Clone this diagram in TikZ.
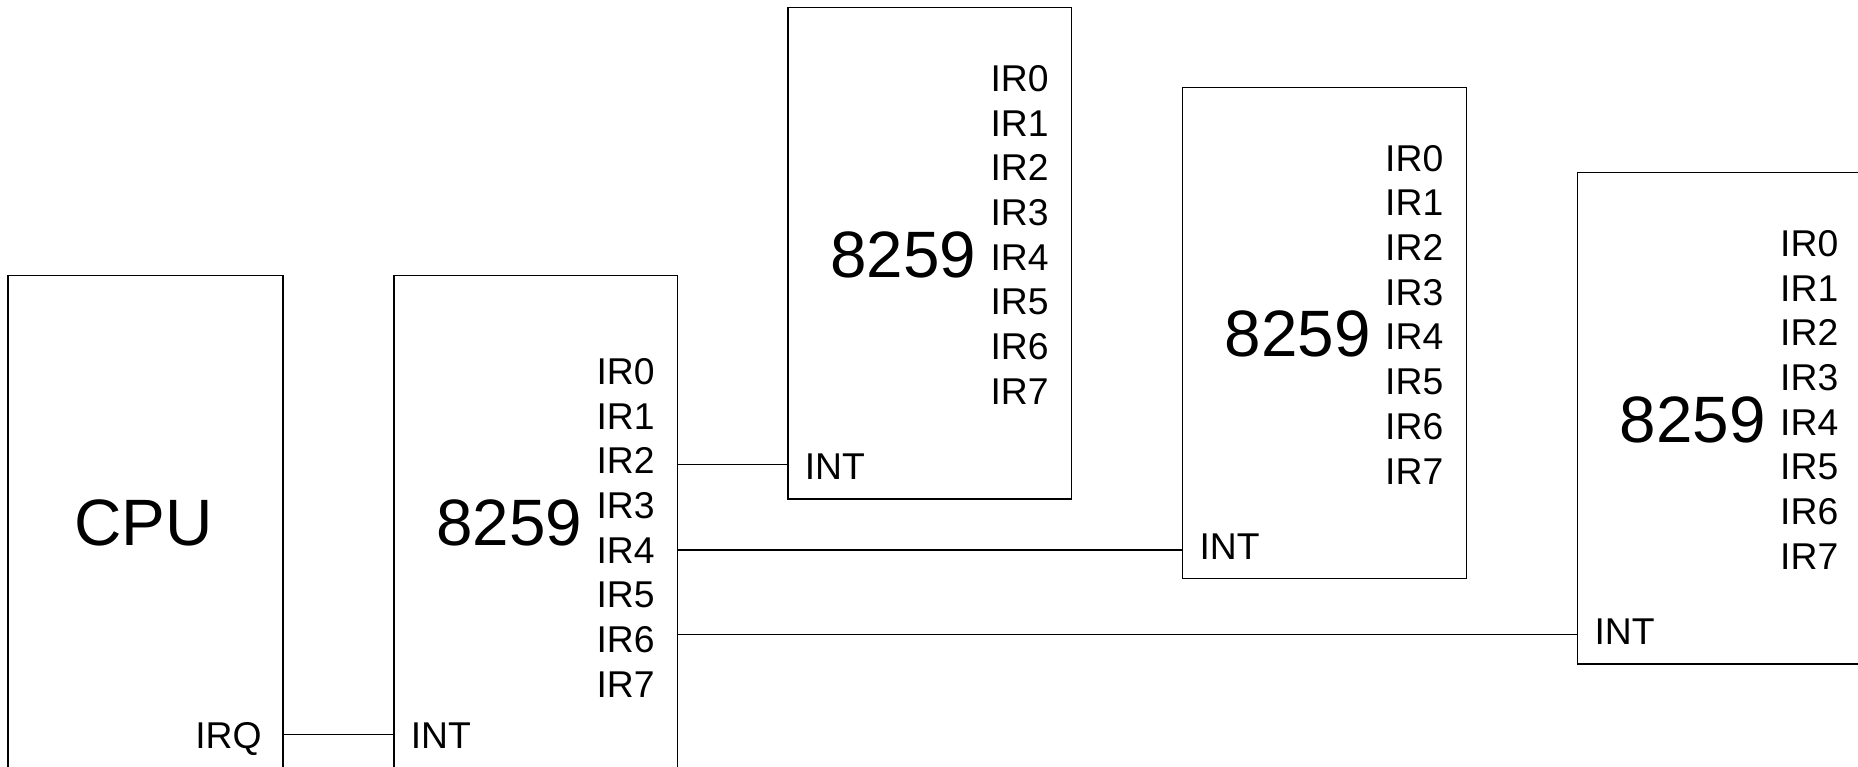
\documentclass[tikz,border=0pt]{standalone}
\usepackage{fontspec}
\setmainfont{Liberation Sans}
\begin{document}
\begin{tikzpicture}[x=1pt,y=-1pt,
  chip/.style={draw=black, line width=1.3pt, inner sep=0pt, minimum width=283.7pt, minimum height=491.6pt},
  cpubox/.style={draw=black, line width=1.3pt, inner sep=0pt, minimum width=275pt, minimum height=491.6pt},
  big/.style={inner sep=0pt, font=\fontsize{65.6}{78}\selectfont},
  pin/.style={inner sep=0pt, font=\fontsize{37.3}{44.7}\selectfont},
  wire/.style={draw=black, line width=1.3pt}]
\fill[white] (0,0) rectangle (1858,766);
\useasboundingbox (0,0) rectangle (1858,766);
\clip (0,0) rectangle (1858,766);
\newcommand\drawchip[4]{%
  \node[chip, anchor=north west] (#1) at (#2,#3) {};
  \node[big, anchor=base east] (#1-lbl) at ([shift={(189,270.3)}]#1.north west) {8259};
  \foreach \i in {0,...,7}
    \node[pin, anchor=base west] (#1-ir\i) at ([shift={(203,{#4+44.7*\i})}]#1.north west) {IR\i};
  \node[pin, anchor=base west] (#1-int) at ([shift={(17.3,473.2)}]#1.north west) {INT};
}
% CPU
\node[cpubox, anchor=north west] (CPU) at (7.3,275) {};
\node[big, anchor=base] (CPU-lbl) at ([shift={(136.5,270)}]CPU.north west) {CPU};
\node[pin, anchor=base east] (CPU-irq) at ([shift={(254.5,473.2)}]CPU.north west) {IRQ};
% 8259 chips
\drawchip{A}{393.3}{275}{109.3}
\drawchip{B}{787.3}{6.7}{84.6}
\drawchip{C}{1182}{86.5}{84.6}
\drawchip{D}{1577}{171.7}{84.6}
% connectors
\draw[wire] ([yshift=1pt]CPU.east |- A-int.west) -- ([yshift=1pt]A.west |- A-int.west);
\draw[wire] ([yshift=2.5pt]A.east |- B-int.west) -- ([yshift=2.5pt]B.west |- B-int.west);
\draw[wire] ([yshift=-3pt]A.east |- C-int.west) -- ([yshift=-3pt]C.west |- C-int.west);
\draw[wire] ([yshift=-2.5pt]A.east |- D-int.west) -- ([yshift=-2.5pt]D.west |- D-int.west);
\end{tikzpicture}
\end{document}
